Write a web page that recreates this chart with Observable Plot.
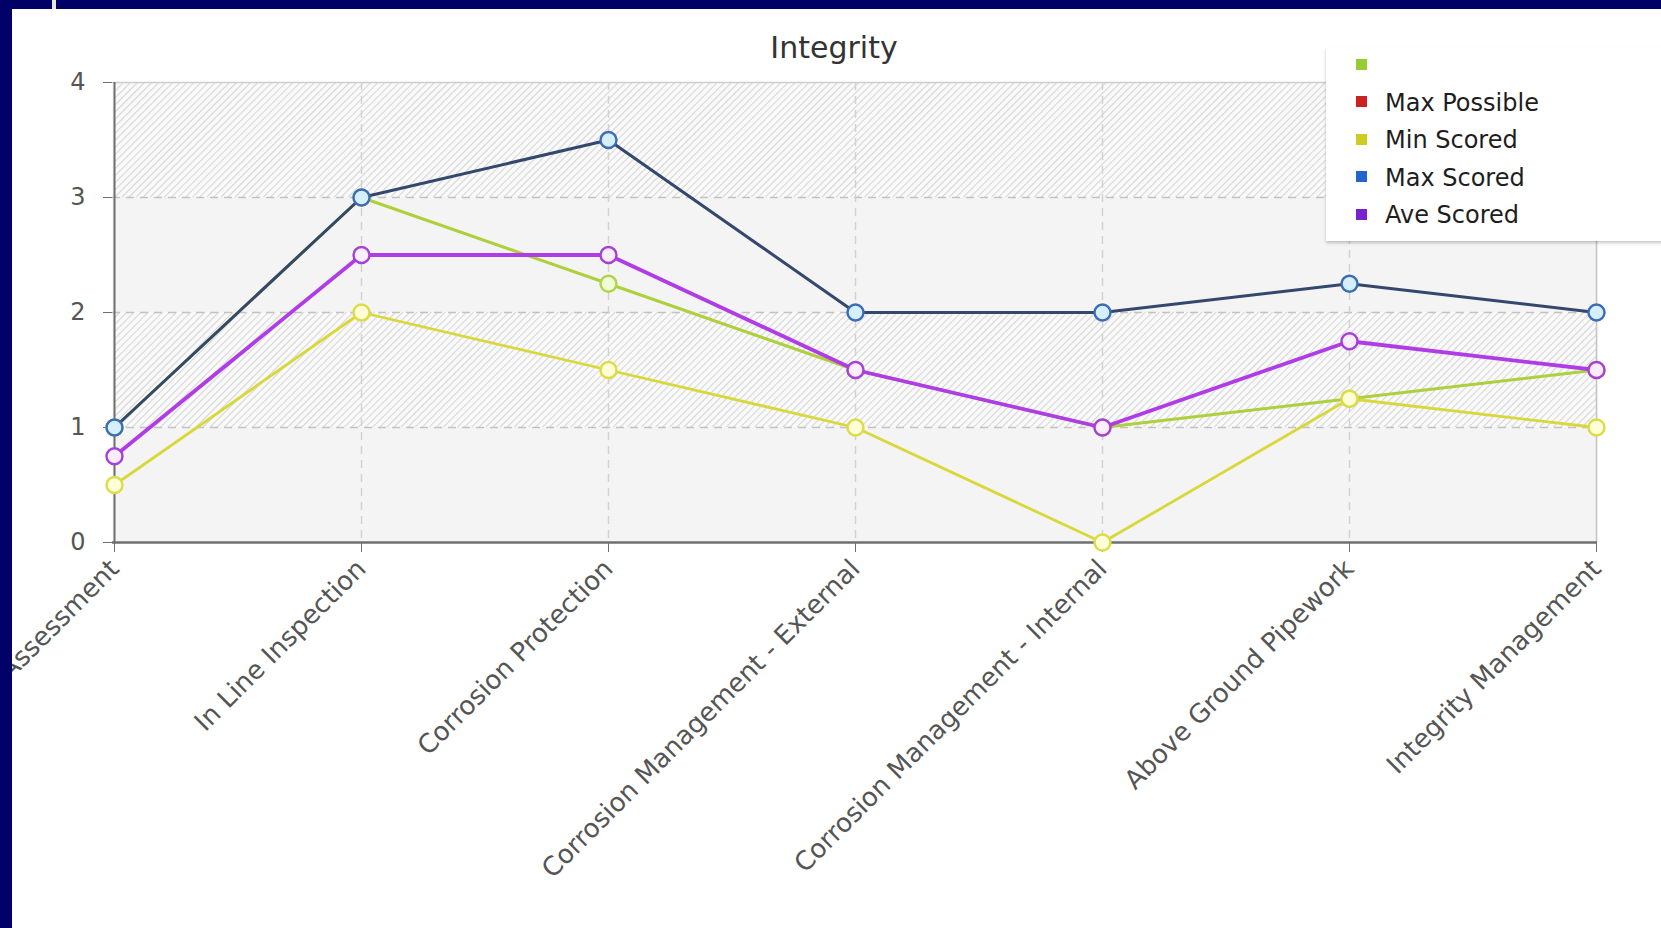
<!DOCTYPE html>
<html>
<head>
<meta charset="utf-8">
<script src="https://cdn.jsdelivr.net/npm/d3@7"></script>
<script src="https://cdn.jsdelivr.net/npm/@observablehq/plot@0.6"></script>
<style>
  html, body { margin: 0; padding: 0; width: 1661px; height: 928px; overflow: hidden; background: #fff;
    font-family: "DejaVu Sans", Verdana, sans-serif; }
  #chart { position: absolute; left: 0; top: 0; }
  .bar { position: absolute; background: #000066; z-index: 5; }
  #title { position: absolute; left: 834px; top: 28px; transform: translateX(-50%); font-size: 30px;
    line-height: 40px; color: #333; white-space: nowrap; z-index: 3; }
  #legend { position: absolute; left: 1326px; top: 47px; width: 340px; height: 194px; background: #fff;
    box-shadow: 0 2px 3px rgba(0,0,0,0.22); z-index: 3; }
  .item { position: absolute; left: 30px; height: 30px; line-height: 30px; font-size: 24px; color: #1e1e1e;
    white-space: nowrap; letter-spacing: 0px; }
  .sw { display: inline-block; width: 11px; height: 11px; margin-right: 18px; vertical-align: middle;
    position: relative; top: -2px; }
</style>
</head>
<body>
<div id="chart"></div>
<div id="title">Integrity</div>
<div id="legend"></div>
<div class="bar" style="left:0;top:0;width:1661px;height:9px;"></div>
<div class="bar" style="left:0;top:0;width:12px;height:928px;"></div>
<div class="bar" style="left:52px;top:0;width:4px;height:9px;background:#e6e9dc;"></div>
<script>
// ---- data ----
const categories = [
  "Risk Assessment",
  "In Line Inspection",
  "Corrosion Protection",
  "Corrosion Management - External",
  "Corrosion Management - Internal",
  "Above Ground Pipework",
  "Integrity Management"
];
const unnamedSeries = [1, 3, 2.25, 1.5, 1, 1.25, 1.5];
const minScored     = [0.5, 2, 1.5, 1, 0, 1.25, 1];
const maxScored     = [1, 3, 3.5, 2, 2, 2.25, 2];
const aveScored     = [0.75, 2.5, 2.5, 1.5, 1, 1.75, 1.5];
const yTicks = [0, 1, 2, 3, 4];
const gridValues = [1, 2, 3];
const hatchedBands = [[1, 2], [3, 4]];
const legendNames  = ["", "Max Possible", "Min Scored", "Max Scored", "Ave Scored"];
const legendColors = ["#99cc33", "#cc2222", "#cccc22", "#2266cc", "#7722cc"];

// ---- legend ----
const legend = document.getElementById("legend");
legendNames.forEach((name, i) => {
  const div = document.createElement("div");
  div.className = "item";
  div.style.top = (3 + i * 37.6) + "px";
  const sw = document.createElement("span");
  sw.className = "sw";
  sw.style.background = legendColors[i];
  div.appendChild(sw);
  div.appendChild(document.createTextNode(name));
  legend.appendChild(div);
});

// ---- chart ----
const rows = vals => categories.map((c, i) => ({cat: c, v: vals[i]}));
const series = [
  {vals: unnamedSeries, line: "#aed03c", width: 3,   dotStroke: "#b2d44a", dotFill: "#f2fbd8"},
  {vals: minScored,     line: "#d9d83a", width: 2.8, dotStroke: "#dcdc46", dotFill: "#ffffd8"},
  {vals: aveScored,     line: "#b03ce6", width: 3.8, dotStroke: "#a640d6", dotFill: "#fdeeff"},
  {vals: maxScored,     line: "#34476c", width: 3,   dotStroke: "#3c6cb4", dotFill: "#d6efff"}
];
const seriesMarks = series.flatMap(s => [
  Plot.line(rows(s.vals), {x: "cat", y: "v", stroke: s.line, strokeWidth: s.width}),
  Plot.dot(rows(s.vals), {x: "cat", y: "v", r: 8, fill: s.dotFill, stroke: s.dotStroke, strokeWidth: 2.4})
]);

const chart = Plot.plot({
  width: 1661,
  height: 928,
  marginLeft: 112,
  marginRight: 64,
  marginTop: 82,
  marginBottom: 386,
  style: {background: "transparent", fontFamily: "DejaVu Sans, Verdana, sans-serif", color: "#555", overflow: "visible"},
  x: {type: "point", domain: categories, padding: 0},
  y: {domain: [0, 4]},
  marks: [
    Plot.frame({fill: "#f4f4f4", stroke: "none"}),
    Plot.rect(hatchedBands, {x1: () => categories[0], x2: () => categories[categories.length - 1],
      y1: d => d[0], y2: d => d[1], fill: "url(#hatch)"}),
    Plot.gridY(gridValues, {stroke: "#c2c2c2", strokeOpacity: 1, strokeWidth: 1.5, strokeDasharray: "8,6"}),
    Plot.ruleY([4], {stroke: "#cdcdcd", strokeWidth: 1.5}),
    Plot.gridX(categories.slice(1, -1), {stroke: "#d2d2d2", strokeOpacity: 1, strokeWidth: 1.5, strokeDasharray: "8,6"}),
    Plot.ruleX(categories.slice(-1), {stroke: "#c4c4c4", strokeWidth: 1.5}),
    Plot.ruleX(categories.slice(0, 1), {stroke: "#6f6f6f", strokeWidth: 2}),
    Plot.ruleY([0], {stroke: "#6f6f6f", strokeWidth: 2.5}),
    Plot.axisY(yTicks, {tickSize: 9, tickPadding: 18, fontSize: 24, stroke: "#6f6f6f", fill: "#555",
      tickFormat: d3.format("d"), label: null}),
    Plot.axisX({tickSize: 10, tickPadding: 12, tickRotate: -45, fontSize: 26, stroke: "#6f6f6f", fill: "#555", label: null}),
    ...seriesMarks
  ]
});
document.getElementById("chart").appendChild(chart);

// hatch pattern definition for alternate bands
const defs = d3.select(chart).insert("defs", ":first-child");
const pat = defs.append("pattern").attr("id", "hatch").attr("patternUnits", "userSpaceOnUse")
  .attr("width", 5).attr("height", 5).attr("patternTransform", "rotate(45)");
pat.append("rect").attr("width", 5).attr("height", 5).attr("fill", "#fafafa");
pat.append("line").attr("x1", 0.5).attr("y1", 0).attr("x2", 0.5).attr("y2", 5)
  .attr("stroke", "#d6d6d6").attr("stroke-width", 1.2);
</script>
</body>
</html>
